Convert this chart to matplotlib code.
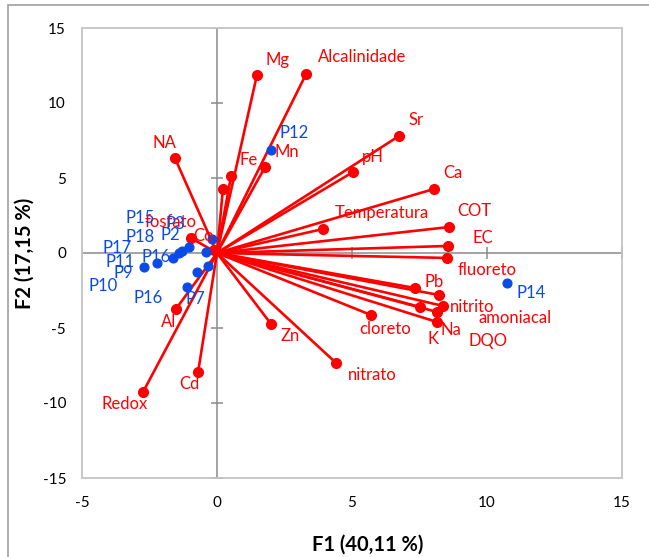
import matplotlib
matplotlib.use("Agg")
import matplotlib.pyplot as plt
from matplotlib.patches import Rectangle
import numpy as np

# ---- data -------------------------------------------------------------
var_names = ["Mg", "Alcalinidade", "Sr", "pH", "Ca", "COT", "EC", "Temperatura",
             "fluoreto", "Pb", "nitrito", "amoniacal", "K", "Na", "DQO", "cloreto",
             "nitrato", "Zn", "Cd", "Redox", "Al", "NA", "Fe", "", "Mn", "fosfato", "Co"]
var_f1 = [1.48, 3.30, 6.74, 5.04, 8.04, 8.59, 8.56, 3.93,
          8.52, 7.33, 8.22, 8.37, 7.52, 8.15, 8.15, 5.70,
          4.41, 2.00, -0.70, -2.74, -1.52, -1.56, 0.52, 0.22, 1.78, -0.96, -0.10]
var_f2 = [11.87, 11.93, 7.80, 5.40, 4.27, 1.73, 0.47, 1.60,
          -0.33, -2.33, -2.80, -3.53, -3.60, -3.93, -4.60, -4.13,
          -7.33, -4.73, -7.93, -9.27, -3.73, 6.33, 5.13, 4.27, 5.73, 1.00, 0.20]

obs_names = ["P12", "P14", "P3", "P2", "P15", "P18", "P16", "P11", "P9",
             "P17", "P10", "P16", "P7"]
obs_f1 = [2.00, 10.74, -0.19, -1.04, -1.30, -1.41, -1.63, -2.22, -2.70,
          -0.41, -0.33, -0.74, -1.11]
obs_f2 = [6.87, -2.00, 0.93, 0.40, 0.13, 0.00, -0.33, -0.67, -0.93,
          0.07, -0.87, -1.27, -2.27]

x_ticks = [-5, 0, 5, 10, 15]
y_ticks = [-15, -10, -5, 0, 5, 10, 15]
x_title = "F1 (40,11 %)"
y_title = "F2 (17,15 %)"

# ---- label offsets (pixels) ------------------------------------------
var_off = {"Mg": (21, 15), "Alcalinidade": (56, 17), "Sr": (17, 16), "pH": (20, 15),
           "Ca": (19, 16), "COT": (25, 16), "EC": (35, 8), "Temperatura": (59, 16),
           "fluoreto": (40, -12), "Pb": (19, 6), "nitrito": (33, -12),
           "amoniacal": (72, -12), "K": (13, -32), "Na": (14, -18), "DQO": (51, -19),
           "cloreto": (14, -14), "nitrato": (36, -12), "Zn": (19, -12), "Cd": (-9, -12),
           "Redox": (-18, -12), "Al": (-7, -13), "NA": (-10, 15), "Fe": (18, 16),
           "Mn": (22, 15), "fosfato": (-21, 16), "Co": (-11, 14)}
obs_off = [(23, 17), (24, -10), (-37, 15), (-19, 12), (-42, 33), (-39, 16),
           (-17, 1), (-37, 1), (-21, -6), (-89, 4), (-105, -20), (-49, -26), (8, -12)]

RED = "#ff0000"
BLUE = "#0a4be6"
FONT = ["Lato", "DejaVu Sans"]
plt.rcParams["font.family"] = FONT
plt.rcParams["axes.unicode_minus"] = False

fig = plt.figure(figsize=(6.49, 5.57), dpi=100)
fig.patches.append(Rectangle((8 / 649, -0.1), 1.2, 1 - 5 / 557 + 0.1,
                             transform=fig.transFigure, fill=False,
                             edgecolor="#a0a0a0", linewidth=1.2))
ax = fig.add_axes([82 / 649, 1 - 478 / 557, 540 / 649, 450 / 557])
ax.set_xlim(-5, 15)
ax.set_ylim(-15, 15)
ax.set_xticks(x_ticks)
ax.set_yticks(y_ticks)
ax.tick_params(length=0, labelsize=11, colors="#000000")
ax.tick_params(axis="y", pad=11.5)
ax.tick_params(axis="x", pad=13)
for s in ax.spines.values():
    s.set_color("#c4c4c4")
    s.set_linewidth(1.3)

ax.axhline(0, color="#8a8a8a", lw=1.1, zorder=1)
ax.axvline(0, color="#8a8a8a", lw=1.1, zorder=1)
ax.plot(np.zeros(len(y_ticks)), y_ticks, ls="none", marker="_", ms=8,
        mew=1.1, color="#8a8a8a", zorder=1)
ax.plot(x_ticks, np.zeros(len(x_ticks)), ls="none", marker="|", ms=8,
        mew=1.1, color="#8a8a8a", zorder=1)

for x, y in zip(var_f1, var_f2):
    ax.plot([0, x], [0, y], color=RED, lw=1.9, solid_capstyle="round", zorder=2)
ax.plot(var_f1, var_f2, ls="none", marker="o", ms=7, color=RED, zorder=3)
ax.plot(obs_f1, obs_f2, ls="none", marker="o", ms=6.3, color=BLUE, zorder=4)

for name, x, y in zip(var_names, var_f1, var_f2):
    if not name:
        continue
    dx, dy = var_off[name]
    ax.annotate(name, (x, y), xytext=(dx, dy), textcoords="offset pixels",
                ha="center", va="center", color=RED, fontsize=12, zorder=5)
for name, x, y, (dx, dy) in zip(obs_names, obs_f1, obs_f2, obs_off):
    ax.annotate(name, (x, y), xytext=(dx, dy), textcoords="offset pixels",
                ha="center", va="center", color=BLUE, fontsize=12, zorder=5)

ax.set_xlabel(x_title, fontsize=14.5, fontweight="bold")
ax.set_ylabel(y_title, fontsize=14.5, fontweight="bold")
ax.xaxis.set_label_coords((368 - 82) / 540, -(535 - 478) / 450)
ax.yaxis.set_label_coords((35 - 82) / 540, 0.5)

fig.savefig("out.png", dpi=100)
